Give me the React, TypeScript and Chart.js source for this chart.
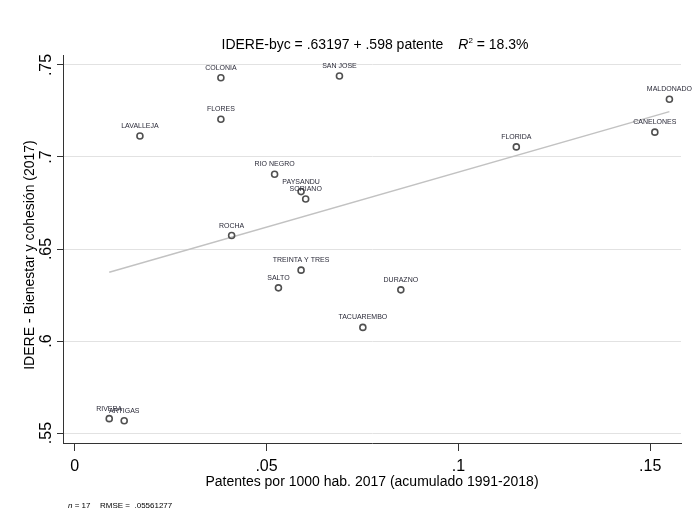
import React, { useEffect, useRef } from "react";
import { Chart, registerables } from "chart.js";

Chart.register(...registerables);

const names = [
  "COLONIA", "SAN JOSE", "MALDONADO", "FLORES", "LAVALLEJA", "CANELONES", "FLORIDA",
  "RIO NEGRO", "PAYSANDU", "SORIANO", "ROCHA", "TREINTA Y TRES", "SALTO", "DURAZNO",
  "TACUAREMBO", "RIVERA", "ARTIGAS",
];
const patentes = [
  0.0381, 0.0690, 0.1550, 0.0381, 0.0170, 0.1512, 0.1151,
  0.0521, 0.0590, 0.0602, 0.0409, 0.0590, 0.0531, 0.0850,
  0.0751, 0.0090, 0.0129,
];
const idere = [
  0.7431, 0.7440, 0.7314, 0.7205, 0.7114, 0.7135, 0.7055,
  0.6906, 0.6812, 0.6772, 0.6573, 0.6385, 0.6289, 0.6278,
  0.6074, 0.5578, 0.5567,
];
const fitIntercept = 0.63197;
const fitSlope = 0.598;
const fitX = [0.009, 0.155];
const xTicks = [0, 0.05, 0.1, 0.15];
const xTickLabels = ["0", ".05", ".1", ".15"];
const yTicks = [0.55, 0.6, 0.65, 0.7, 0.75];
const yTickLabels = [".55", ".6", ".65", ".7", ".75"];

const FONT = '"Liberation Sans", Arial, sans-serif';

const textPlugin = {
  id: "stataText",
  afterDatasetsDraw(chart: any) {
    const ctx = chart.ctx;
    const meta = chart.getDatasetMeta(0);
    ctx.save();
    ctx.font = `7px ${FONT}`;
    ctx.fillStyle = "#2a2a38";
    ctx.textAlign = "center";
    ctx.textBaseline = "middle";
    meta.data.forEach((el: any, i: number) => {
      ctx.fillText(names[i], el.x, el.y - 10);
    });
    ctx.restore();
  },
  afterDraw(chart: any) {
    const ctx = chart.ctx;
    const ys = chart.scales.y;
    const area = chart.chartArea;
    ctx.save();
    ctx.fillStyle = "#000";
    // y tick labels rotated
    ctx.font = `16px ${FONT}`;
    ctx.textAlign = "center";
    ctx.textBaseline = "alphabetic";
    ys.ticks.forEach((t: any, i: number) => {
      const py = ys.getPixelForValue(t.value);
      ctx.save();
      ctx.translate(51, py);
      ctx.rotate(-Math.PI / 2);
      ctx.fillText(yTickLabels[i] ?? String(t.value), 0, 0);
      ctx.restore();
    });
    // y title
    ctx.font = `14px ${FONT}`;
    ctx.save();
    ctx.translate(34, 255);
    ctx.rotate(-Math.PI / 2);
    ctx.fillText("IDERE - Bienestar y cohesión (2017)", 0, 0);
    ctx.restore();
    // x title
    const cx = (area.left + area.right) / 2;
    ctx.textAlign = "center";
    ctx.fillText("Patentes por 1000 hab. 2017 (acumulado 1991-2018)", cx, 486);
    // title
    const p1 = "IDERE-byc = .63197 + .598 patente";
    const p3 = " = 18.3%";
    ctx.font = `14px ${FONT}`;
    const w1 = ctx.measureText(p1).width;
    const w3 = ctx.measureText(p3).width;
    ctx.font = `italic 14px ${FONT}`;
    const wR = ctx.measureText("R").width;
    ctx.font = `8px ${FONT}`;
    const w2 = ctx.measureText("2").width;
    const gap = 15;
    const total = w1 + gap + wR + w2 + w3;
    let x = cx + 3 - total / 2;
    const by = 48.5;
    ctx.textAlign = "left";
    ctx.font = `14px ${FONT}`;
    ctx.fillText(p1, x, by);
    x += w1 + gap;
    ctx.font = `italic 14px ${FONT}`;
    ctx.fillText("R", x, by);
    x += wR;
    ctx.font = `8px ${FONT}`;
    ctx.fillText("2", x, by - 6);
    x += w2;
    ctx.font = `14px ${FONT}`;
    ctx.fillText(p3, x, by);
    // footer
    ctx.font = `italic 8px ${FONT}`;
    ctx.fillText("n", 68, 507.5);
    const wn = ctx.measureText("n").width;
    ctx.font = `8px ${FONT}`;
    ctx.fillText(" = 17", 68 + wn, 507.5);
    ctx.fillText("RMSE =  .05561277", 100, 507.5);
    ctx.restore();
  },
};

export default function App() {
  const ref = useRef<HTMLCanvasElement | null>(null);
  useEffect(() => {
    if (!ref.current) return;
    const points = patentes.map((v, i) => ({ x: v, y: idere[i] }));
    const fit = fitX.map((v) => ({ x: v, y: fitIntercept + fitSlope * v }));
    const chart = new Chart(ref.current, {
      type: "scatter",
      data: {
        datasets: [
          {
            type: "scatter",
            data: points,
            pointRadius: 3,
            pointHoverRadius: 3,
            pointBorderWidth: 1.6,
            pointBackgroundColor: "rgba(0,0,0,0)",
            pointBorderColor: "#505050",
          } as any,
          {
            type: "line",
            data: fit,
            borderColor: "#c2c2c2",
            borderWidth: 1.5,
            pointRadius: 0,
            fill: false,
          } as any,
        ],
      },
      options: {
        animation: false,
        responsive: false,
        devicePixelRatio: 1,
        events: [],
        layout: { padding: { top: 55, right: 19, left: 0, bottom: 0 } },
        plugins: { legend: { display: false }, tooltip: { enabled: false }, title: { display: false } },
        scales: {
          x: {
            type: "linear",
            min: -0.00305,
            max: 0.15802,
            afterFit: (s: any) => { s.height = 68; },
            afterBuildTicks: (s: any) => { s.ticks = xTicks.map((v) => ({ value: v })); },
            grid: { drawOnChartArea: false, drawTicks: true, tickLength: 8, tickColor: "#333", tickWidth: 1 },
            border: { display: true, color: "#333", width: 1 },
            ticks: {
              font: { family: FONT, size: 16 },
              color: "#000",
              padding: 6,
              maxRotation: 0,
              autoSkip: false,
              callback: (v: any, i: number) => xTickLabels[i],
            },
          },
          y: {
            type: "linear",
            min: 0.54457,
            max: 0.75543,
            afterFit: (s: any) => { s.width = 63; },
            afterBuildTicks: (s: any) => { s.ticks = yTicks.map((v) => ({ value: v })); },
            grid: { color: "#e2e2e2", lineWidth: 1, drawTicks: true, tickLength: 6, tickColor: "#333", tickWidth: 1 },
            border: { display: true, color: "#333", width: 1 },
            ticks: { display: false },
          },
        },
      } as any,
      plugins: [textPlugin],
    });
    return () => chart.destroy();
  }, []);
  return (
    <div style={{ position: "absolute", left: 0, top: 0, width: 700, height: 511, background: "#fff" }}>
      <canvas ref={ref} width={700} height={511} style={{ display: "block" }} />
    </div>
  );
}
